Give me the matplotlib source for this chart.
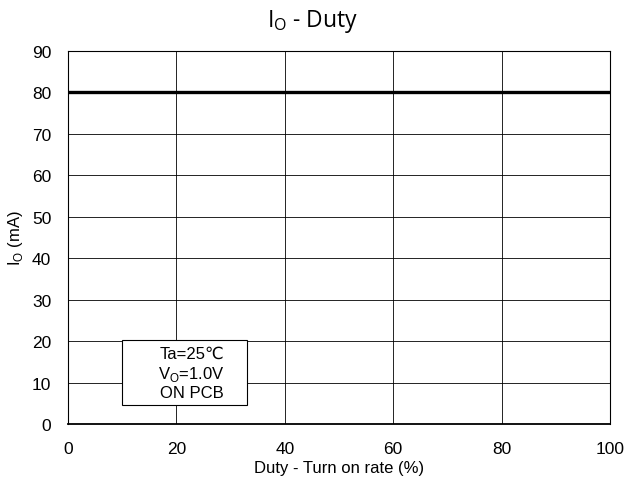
import matplotlib
matplotlib.use("Agg")
import matplotlib.pyplot as plt
from matplotlib.patches import Rectangle

duty = [0, 100]
io = [80, 80]
xticks = [0, 20, 40, 60, 80, 100]
yticks = [0, 10, 20, 30, 40, 50, 60, 70, 80, 90]

plt.rcParams['font.family'] = ['Liberation Sans', 'DejaVu Sans']

fig = plt.figure(figsize=(6.25, 4.85), dpi=100)
ax = fig.add_axes([0.1088, 0.1237, 0.976 - 0.1088, 0.8928 - 0.1237])
ax.plot(duty, io, color='black', linewidth=2.4, solid_capstyle='butt')
ax.set_xlim(0, 100)
ax.set_ylim(0, 90)
ax.set_xticks(xticks)
ax.set_yticks(yticks)
ax.tick_params(axis='x', length=0, labelsize=12.5, pad=12)
ax.tick_params(axis='y', length=0, labelsize=12.5, pad=12)
ax.grid(True, color='black', linewidth=0.6)
for s in ax.spines.values():
    s.set_linewidth(0.8)
ax.spines['bottom'].set_linewidth(1.3)
ax.set_xlabel('Duty - Turn on rate (%)', fontsize=12, labelpad=3)
ax.set_ylabel('I$_\\mathregular{O}$ (mA)', fontsize=12, labelpad=5)
fig.text(0.5, 0.955, 'I$_\\mathregular{O}$ - Duty', ha='center', va='center', fontsize=16.5,
         family=['Open Sans', 'DejaVu Sans'])
ax.add_patch(Rectangle((10, 4.6), 23, 15.7, facecolor='white', edgecolor='black',
                       linewidth=0.8, zorder=5))
ax.text(22.8, 12.3, 'Ta=25\u2103\nV$_\\mathregular{O}$=1.0V\nON PCB', ha='center', va='center',
        fontsize=12, linespacing=1.2, zorder=6)
fig.savefig('out.png', dpi=100)
